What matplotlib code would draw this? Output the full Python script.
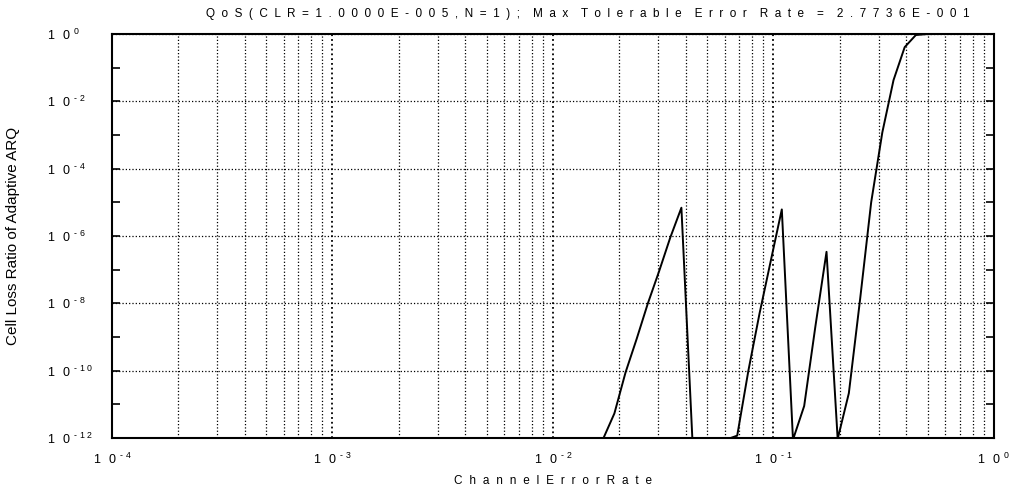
import numpy as np
import matplotlib
matplotlib.use('Agg')
import matplotlib.pyplot as plt
from matplotlib.ticker import FixedLocator, NullFormatter

plt.rcParams['font.family'] = ['Liberation Sans', 'DejaVu Sans']
plt.rcParams['mathtext.fontset'] = 'custom'
plt.rcParams['mathtext.rm'] = 'Liberation Sans'

# channel error rate (points that reach the visible range)
err_rate = [0.01503, 0.01690, 0.01899, 0.02134, 0.02398, 0.02694, 0.03028,
            0.03402, 0.03823, 0.04296, 0.04827, 0.05424, 0.06094, 0.06848,
            0.07695, 0.08646, 0.09713, 0.1091, 0.1226, 0.1378, 0.1548,
            0.1740, 0.1955, 0.2197, 0.2469, 0.2774, 0.3117, 0.3503, 0.3936,
            0.4423, 0.4970, 0.5584, 0.6275, 0.7051, 0.7923, 0.8903, 1.0]
# log10 of cell loss ratio
log_clr = [-13.0, -12.02, -11.27, -10.05, -9.05, -8.0, -7.05, -6.05, -5.16,
           -12.15, -14.0, -14.0, -12.05, -11.93, -10.0, -8.3, -6.75, -5.21,
           -12.05, -11.05, -8.7, -6.47, -12.03, -10.67, -7.9, -5.0, -2.92,
           -1.37, -0.39, -0.03, -0.002, 0.0, 0.0, 0.0, 0.0, 0.0, 0.0]
clr = [10.0 ** v for v in log_clr]

x_decades = [1e-4, 1e-3, 1e-2, 1e-1, 1e0]
x_exps = ['-4', '-3', '-2', '-1', '0']
y_major = [1e-12, 1e-10, 1e-8, 1e-6, 1e-4, 1e-2, 1e0]
y_exps = ['-12', '-10', '-8', '-6', '-4', '-2', '0']
y_minor = [1e-11, 1e-9, 1e-7, 1e-5, 1e-3, 1e-1]

title_words = ['QoS(CLR=1.0000E-005,N=1);', 'Max', 'Tolerable', 'Error', 'Rate', '=', '2.7736E-001']
xlabel_text = 'ChannelErrorRate'


def spaced(word, sep='  '):
    # old plotter style: wide gap after every character
    return sep.join(word)


def pow_label(exp):
    parts = [r'\text{-}' if c == '-' else c for c in exp]
    sup = r'\ '.join(parts)
    return r'$\mathregular{1\enspace\,0^{\,\,\,' + sup + '}}$'


fig = plt.figure(figsize=(10.09, 4.93), dpi=100)
ax = fig.add_axes([0.111, 0.1116, 0.8741, 0.8194])

ax.plot(err_rate, clr, color='black', linewidth=1.4)

ax.set_xscale('log')
ax.set_yscale('log')
ax.set_xlim(1e-4, 1e0)
ax.set_ylim(1e-12, 1e0)

ax.xaxis.set_major_locator(FixedLocator(x_decades))
ax.set_xticklabels([pow_label(e) for e in x_exps])
x_minor = [m * d for d in x_decades[:-1] for m in range(2, 10)]
ax.xaxis.set_minor_locator(FixedLocator(x_minor))
ax.xaxis.set_minor_formatter(NullFormatter())

ax.yaxis.set_major_locator(FixedLocator(y_major))
ax.set_yticklabels([pow_label(e) for e in y_exps])
ax.yaxis.set_minor_locator(FixedLocator(y_minor))
ax.yaxis.set_minor_formatter(NullFormatter())

ax.tick_params(axis='both', which='both', direction='in', top=True, right=True,
               colors='black', labelsize=9)
ax.tick_params(axis='x', which='major', length=0, pad=10)
ax.tick_params(axis='x', which='minor', length=0)
ax.tick_params(axis='y', which='major', length=5.5, width=1.2, pad=46.8)
ax.tick_params(axis='y', which='minor', length=5.5, width=1.2)
for lab in ax.get_yticklabels():
    lab.set_horizontalalignment('left')

ax.grid(True, which='major', axis='x', linestyle=':', color='black', linewidth=1.3)
ax.grid(True, which='minor', axis='x', linestyle=':', color='black', linewidth=0.9)
ax.grid(True, which='major', axis='y', linestyle=':', color='black', linewidth=0.9)

for s in ax.spines.values():
    s.set_linewidth(1.5)

ax.set_title('    '.join(spaced(w) for w in title_words), fontsize=8.5, x=0.539, pad=12)
ax.set_xlabel(spaced(xlabel_text, '\u2002\u200a'), fontsize=8.5, labelpad=6)
ax.set_ylabel('Cell Loss Ratio of Adaptive ARQ', fontsize=11)
ax.yaxis.set_label_coords(-0.1043, 0.5)

fig.savefig('out.png', dpi=100)
